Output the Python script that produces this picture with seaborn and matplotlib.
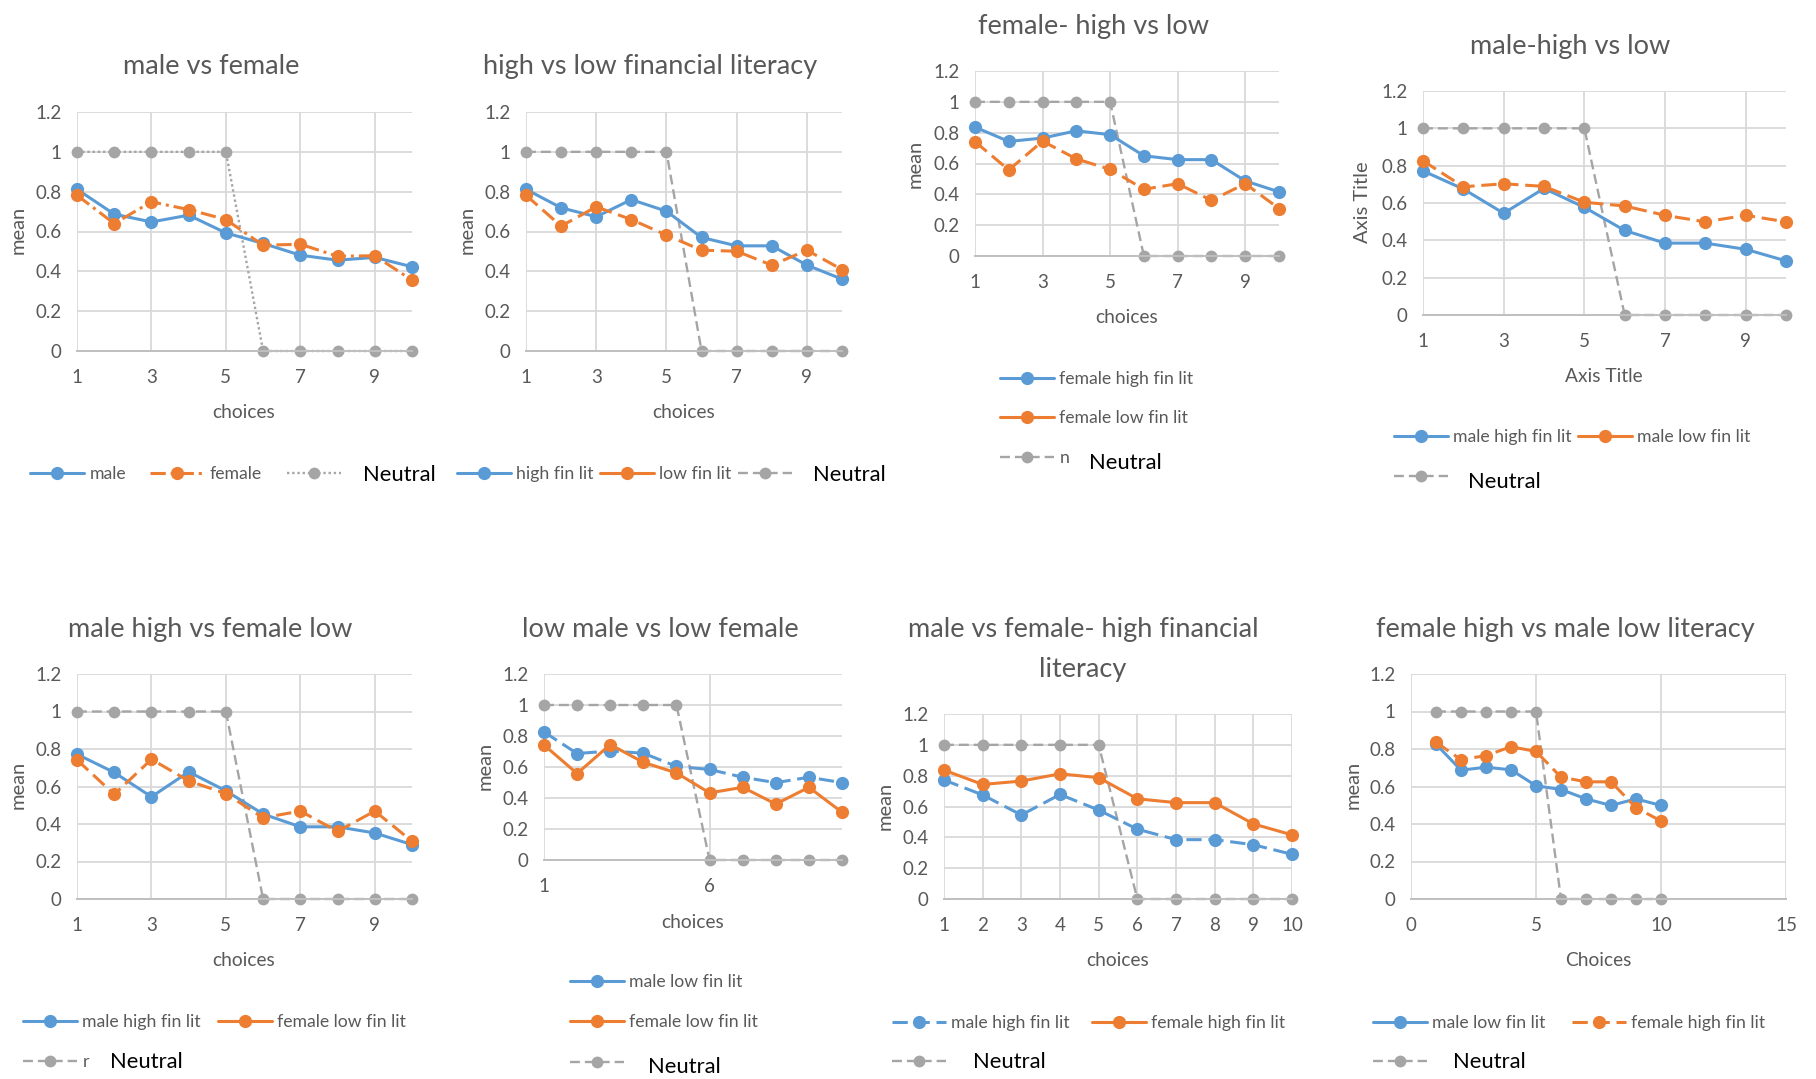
import matplotlib
matplotlib.use("Agg")
import matplotlib.pyplot as plt
from matplotlib.lines import Line2D
from matplotlib.ticker import FuncFormatter
import seaborn as sns

# ---- data -------------------------------------------------------------
choices = [1, 2, 3, 4, 5, 6, 7, 8, 9, 10]
neutral = [1, 1, 1, 1, 1, 0, 0, 0, 0, 0]

male = [0.812, 0.687, 0.648, 0.682, 0.593, 0.540, 0.481, 0.456, 0.470, 0.423]
female = [0.782, 0.640, 0.749, 0.710, 0.660, 0.531, 0.536, 0.476, 0.478, 0.356]

high_fin_lit = [0.812, 0.719, 0.674, 0.760, 0.702, 0.570, 0.528, 0.528, 0.431, 0.361]
low_fin_lit = [0.782, 0.627, 0.724, 0.660, 0.582, 0.506, 0.501, 0.431, 0.506, 0.409]

male_high = [0.772, 0.675, 0.545, 0.678, 0.577, 0.453, 0.385, 0.385, 0.352, 0.290]
male_low = [0.826, 0.687, 0.703, 0.689, 0.604, 0.584, 0.534, 0.499, 0.534, 0.499]
female_high = [0.836, 0.743, 0.765, 0.812, 0.787, 0.650, 0.625, 0.625, 0.487, 0.416]
female_low = [0.742, 0.558, 0.745, 0.630, 0.562, 0.433, 0.469, 0.361, 0.469, 0.308]

y_ticks = [0, 0.2, 0.4, 0.6, 0.8, 1.0, 1.2]

# ---- style ------------------------------------------------------------
BLUE = "#5B9BD5"
ORANGE = "#ED7D31"
GREY = "#A5A5A5"
TEXT = "#595959"
GRID = "#D9D9D9"
AXIS = "#BFBFBF"

SOLID = "-"
DASH = (0, (5, 2.2))
NDASH = (0, (4.2, 2.1))
DOT = (0, (1, 1.2))
DASHDOT = (0, (5, 1.6, 1, 1.6))
LW = 2.2
NLW = 1.7
MS = 9.5
NMS = 8.5

TICK_FS = 13.5
LEG_FS = 12.7
LABEL_FS = 13.8
TITLE_FS = 19.5
HANDLE_PX = 54

W, H = 1816, 1079
sns.set_style("white")
plt.rcParams["font.family"] = ["Lato", "DejaVu Sans"]

fig = plt.figure(figsize=(W / 100, H / 100), dpi=100)


def fx(x):
    return x / W


def fy(y):
    return 1 - y / H


def make_axes(l, t, r, b):
    return fig.add_axes([fx(l), fy(b), (r - l) / W, (b - t) / H])


def series(ax, y, color, ls, x=choices, lw=LW, ms=MS, z=3):
    sns.lineplot(x=x, y=y, ax=ax, color=color, linestyle=ls, lw=lw,
                 marker="o", markersize=ms, markeredgewidth=0,
                 markeredgecolor=color, errorbar=None, clip_on=False,
                 zorder=z)


def style_axes(ax, xlim=(1, 10), xticks=(1, 3, 5, 7, 9)):
    ax.set_xlim(*xlim)
    ax.set_ylim(0, 1.2)
    ax.set_xticks(list(xticks))
    ax.set_yticks(y_ticks)
    ax.yaxis.set_major_formatter(FuncFormatter(lambda v, p: f"{v:g}"))
    ax.grid(True, color=GRID, lw=1.3, zorder=0)
    ax.set_axisbelow(True)
    for s in ("top", "right", "left"):
        ax.spines[s].set_visible(False)
    ax.spines["bottom"].set_color(AXIS)
    ax.spines["bottom"].set_linewidth(1.4)
    ax.tick_params(axis="x", length=0, pad=13, labelsize=TICK_FS, labelcolor=TEXT)
    ax.tick_params(axis="y", length=0, pad=11, labelsize=TICK_FS, labelcolor=TEXT)


def labels(ax, xlabel, xpos, ylabel, ypos):
    ax.set_xlabel(xlabel, fontsize=LABEL_FS, color=TEXT, va="center")
    ax.xaxis.set_label_coords(fx(xpos[0]), fy(xpos[1]), transform=fig.transFigure)
    ax.set_ylabel(ylabel, fontsize=14.5, color=TEXT, va="center")
    ax.yaxis.set_label_coords(fx(ypos[0]), fy(ypos[1]), transform=fig.transFigure)


def title(text, x, y, **kw):
    fig.text(fx(x), fy(y + 2.5), text, ha="center", va="center",
             fontsize=TITLE_FS, color=TEXT, **kw)


def key(x, y, color, ls, label, lw=LW, ms=MS):
    h = Line2D([], [], color=color, linestyle=ls, lw=lw, marker="o",
               markersize=ms, markeredgewidth=0)
    fig.legend(handles=[h], labels=[label], loc="center left",
               bbox_to_anchor=(fx(x), fy(y)), frameon=False, borderpad=0,
               borderaxespad=0, handlelength=HANDLE_PX / (LEG_FS * 100 / 72),
               handletextpad=0.3, fontsize=LEG_FS, labelcolor=TEXT)


def neutral_text(x, y):
    fig.text(fx(x), fy(y), "Neutral", fontsize=15.8, color="black",
             ha="left", va="center")


# ---- male vs female ---------------------------------------------------
ax = make_axes(77, 112, 412, 351)
style_axes(ax)
series(ax, neutral, GREY, DOT, lw=NLW, ms=NMS, z=2)
series(ax, male, BLUE, SOLID)
series(ax, female, ORANGE, DASHDOT, z=4)
labels(ax, "choices", (244, 412), "mean", (18, 230))
title("male vs female", 211, 64)
key(30, 474, BLUE, SOLID, "male")
key(150, 474, ORANGE, DASHDOT, "female")
key(287, 474, GREY, DOT, "", lw=NLW, ms=NMS)
neutral_text(363, 475)

# ---- high vs low financial literacy ------------------------------------
ax = make_axes(526, 112, 842, 351)
style_axes(ax)
series(ax, neutral, GREY, NDASH, lw=NLW, ms=NMS, z=2)
series(ax, high_fin_lit, BLUE, SOLID)
series(ax, low_fin_lit, ORANGE, DASH, z=4)
labels(ax, "choices", (684, 412), "mean", (467, 230))
title("high vs low financial literacy", 650, 64)
key(457, 474, BLUE, SOLID, "high fin lit")
key(600, 474, ORANGE, SOLID, "low fin lit")
key(738, 474, GREY, NDASH, "", lw=NLW, ms=NMS)
neutral_text(813, 475)

# ---- female- high vs low -----------------------------------------------
ax = make_axes(975, 71, 1279, 256)
style_axes(ax)
series(ax, neutral, GREY, NDASH, lw=NLW, ms=NMS, z=2)
series(ax, female_high, BLUE, SOLID)
series(ax, female_low, ORANGE, DASH, z=4)
labels(ax, "choices", (1127, 318), "mean", (915, 164))
title("female- high vs low", 1093, 24)
key(1000, 379, BLUE, SOLID, "female high fin lit")
key(1000, 418, ORANGE, SOLID, "female low fin lit")
key(1000, 458, GREY, NDASH, "n", lw=NLW, ms=NMS)
neutral_text(1089, 463)

# ---- male-high vs low ---------------------------------------------------
ax = make_axes(1423, 91, 1786, 315)
style_axes(ax)
series(ax, neutral, GREY, NDASH, lw=NLW, ms=NMS, z=2)
series(ax, male_high, BLUE, SOLID)
series(ax, male_low, ORANGE, DASH, z=4)
labels(ax, "Axis Title", (1604, 377), "Axis Title", (1363, 202))
title("male-high vs low", 1570, 44)
key(1394, 437, BLUE, SOLID, "male high fin lit")
key(1578, 437, ORANGE, SOLID, "male low fin lit")
key(1394, 477, GREY, NDASH, "", lw=NLW, ms=NMS)
neutral_text(1468, 482)

# ---- male high vs female low -------------------------------------------
ax = make_axes(77, 674, 412, 899)
style_axes(ax)
series(ax, neutral, GREY, NDASH, lw=NLW, ms=NMS, z=2)
series(ax, male_high, BLUE, SOLID)
series(ax, female_low, ORANGE, DASH, z=4)
labels(ax, "choices", (244, 960), "mean", (18, 785))
title("male high vs female low", 210, 627)
key(23, 1022, BLUE, SOLID, "male high fin lit")
key(218, 1022, ORANGE, SOLID, "female low fin lit")
key(23, 1062, GREY, NDASH, "r", lw=NLW, ms=NMS)
neutral_text(110, 1062)

# ---- low male vs low female ----------------------------------------------
ax = make_axes(544, 674, 842, 860)
style_axes(ax, xticks=(1, 6))
series(ax, neutral, GREY, NDASH, lw=NLW, ms=NMS, z=2)
series(ax, male_low, BLUE, DASH)
series(ax, female_low, ORANGE, SOLID, z=4)
labels(ax, "choices", (693, 922), "mean", (485, 766))
title("low male vs low female", 660, 627)
key(570, 982, BLUE, SOLID, "male low fin lit")
key(570, 1022, ORANGE, SOLID, "female low fin lit")
key(570, 1063, GREY, NDASH, "", lw=NLW, ms=NMS)
neutral_text(648, 1067)

# ---- male vs female- high financial literacy ----------------------------
ax = make_axes(944, 714, 1292, 899)
style_axes(ax, xticks=choices)
series(ax, neutral, GREY, NDASH, lw=NLW, ms=NMS, z=2)
series(ax, male_high, BLUE, DASH)
series(ax, female_high, ORANGE, SOLID, z=4)
labels(ax, "choices", (1118, 960), "mean", (885, 806))
title("male vs female- high financial\nliteracy", 1083, 647, linespacing=1.72)
key(892, 1023, BLUE, DASH, "male high fin lit")
key(1092, 1023, ORANGE, SOLID, "female high fin lit")
key(892, 1062, GREY, NDASH, "", lw=NLW, ms=NMS)
neutral_text(973, 1062)

# ---- female high vs male low literacy -----------------------------------
ax = make_axes(1411, 674, 1786, 899)
style_axes(ax, xlim=(0, 15), xticks=(0, 5, 10, 15))
series(ax, neutral, GREY, NDASH, lw=NLW, ms=NMS, z=2)
series(ax, male_low, BLUE, SOLID)
series(ax, female_high, ORANGE, DASH, z=4)
labels(ax, "Choices", (1598, 960), "mean", (1353, 785))
title("female high vs male low literacy", 1565, 627)
key(1373, 1023, BLUE, SOLID, "male low fin lit")
key(1572, 1023, ORANGE, DASH, "female high fin lit")
key(1373, 1062, GREY, NDASH, "", lw=NLW, ms=NMS)
neutral_text(1453, 1062)

fig.savefig("out.png", dpi=100, facecolor="white")
